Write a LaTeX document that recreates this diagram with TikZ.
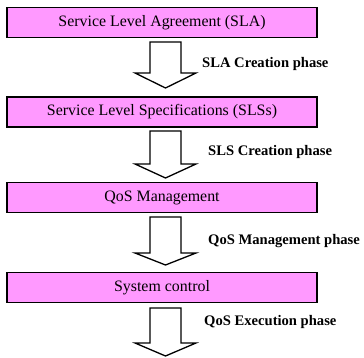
\documentclass[tikz,border=0pt]{standalone}
\usepackage{fontspec}
\setmainfont{Liberation Serif}
\definecolor{boxpink}{RGB}{255,153,255}
\tikzset{
  phasebox/.style={draw=black, line width=1.6pt, fill=boxpink, minimum width=310pt, minimum height=30pt, inner sep=0pt, font=\fontsize{15.9}{18}\selectfont},
  blockarrow/.style={draw=black, line width=1.3pt, fill=white, line join=miter},
  phaselabel/.style={anchor=west, inner sep=0pt, font=\bfseries\fontsize{14.6}{16}\selectfont}
}
\newcommand{\blockarr}[3]{% top y, shaft bottom y, tip y (pixels)
  \draw[blockarrow] (150pt,-#1pt) -- (181pt,-#1pt) -- (181pt,-#2pt) -- (196pt,-#2pt) -- (165.5pt,-#3pt) -- (135pt,-#2pt) -- (150pt,-#2pt) -- cycle;}
\begin{document}
\begin{tikzpicture}[x=1pt,y=1pt]
\useasboundingbox (0,0) rectangle (364,-358);
\node[phasebox] (sla) at (162,-22.5) {Service Level Agreement (SLA)};
\node[phasebox] (sls) at (162,-112) {Service Level Specifications (SLSs)};
\node[phasebox] (qos) at (162,-197.5) {QoS Management};
\node[phasebox] (sys) at (162,-287.5) {System control};
\blockarr{42}{73}{88}
\blockarr{131}{164}{178}
\blockarr{217}{253}{265}
\blockarr{308}{343}{356}
\node[phaselabel] (l1) at (202,-64) {SLA Creation phase};
\node[phaselabel] (l2) at (208,-152) {SLS Creation phase};
\node[phaselabel] (l3) at (208,-241) {QoS Management phase};
\node[phaselabel] (l4) at (204,-322) {QoS Execution phase};
\end{tikzpicture}
\end{document}
